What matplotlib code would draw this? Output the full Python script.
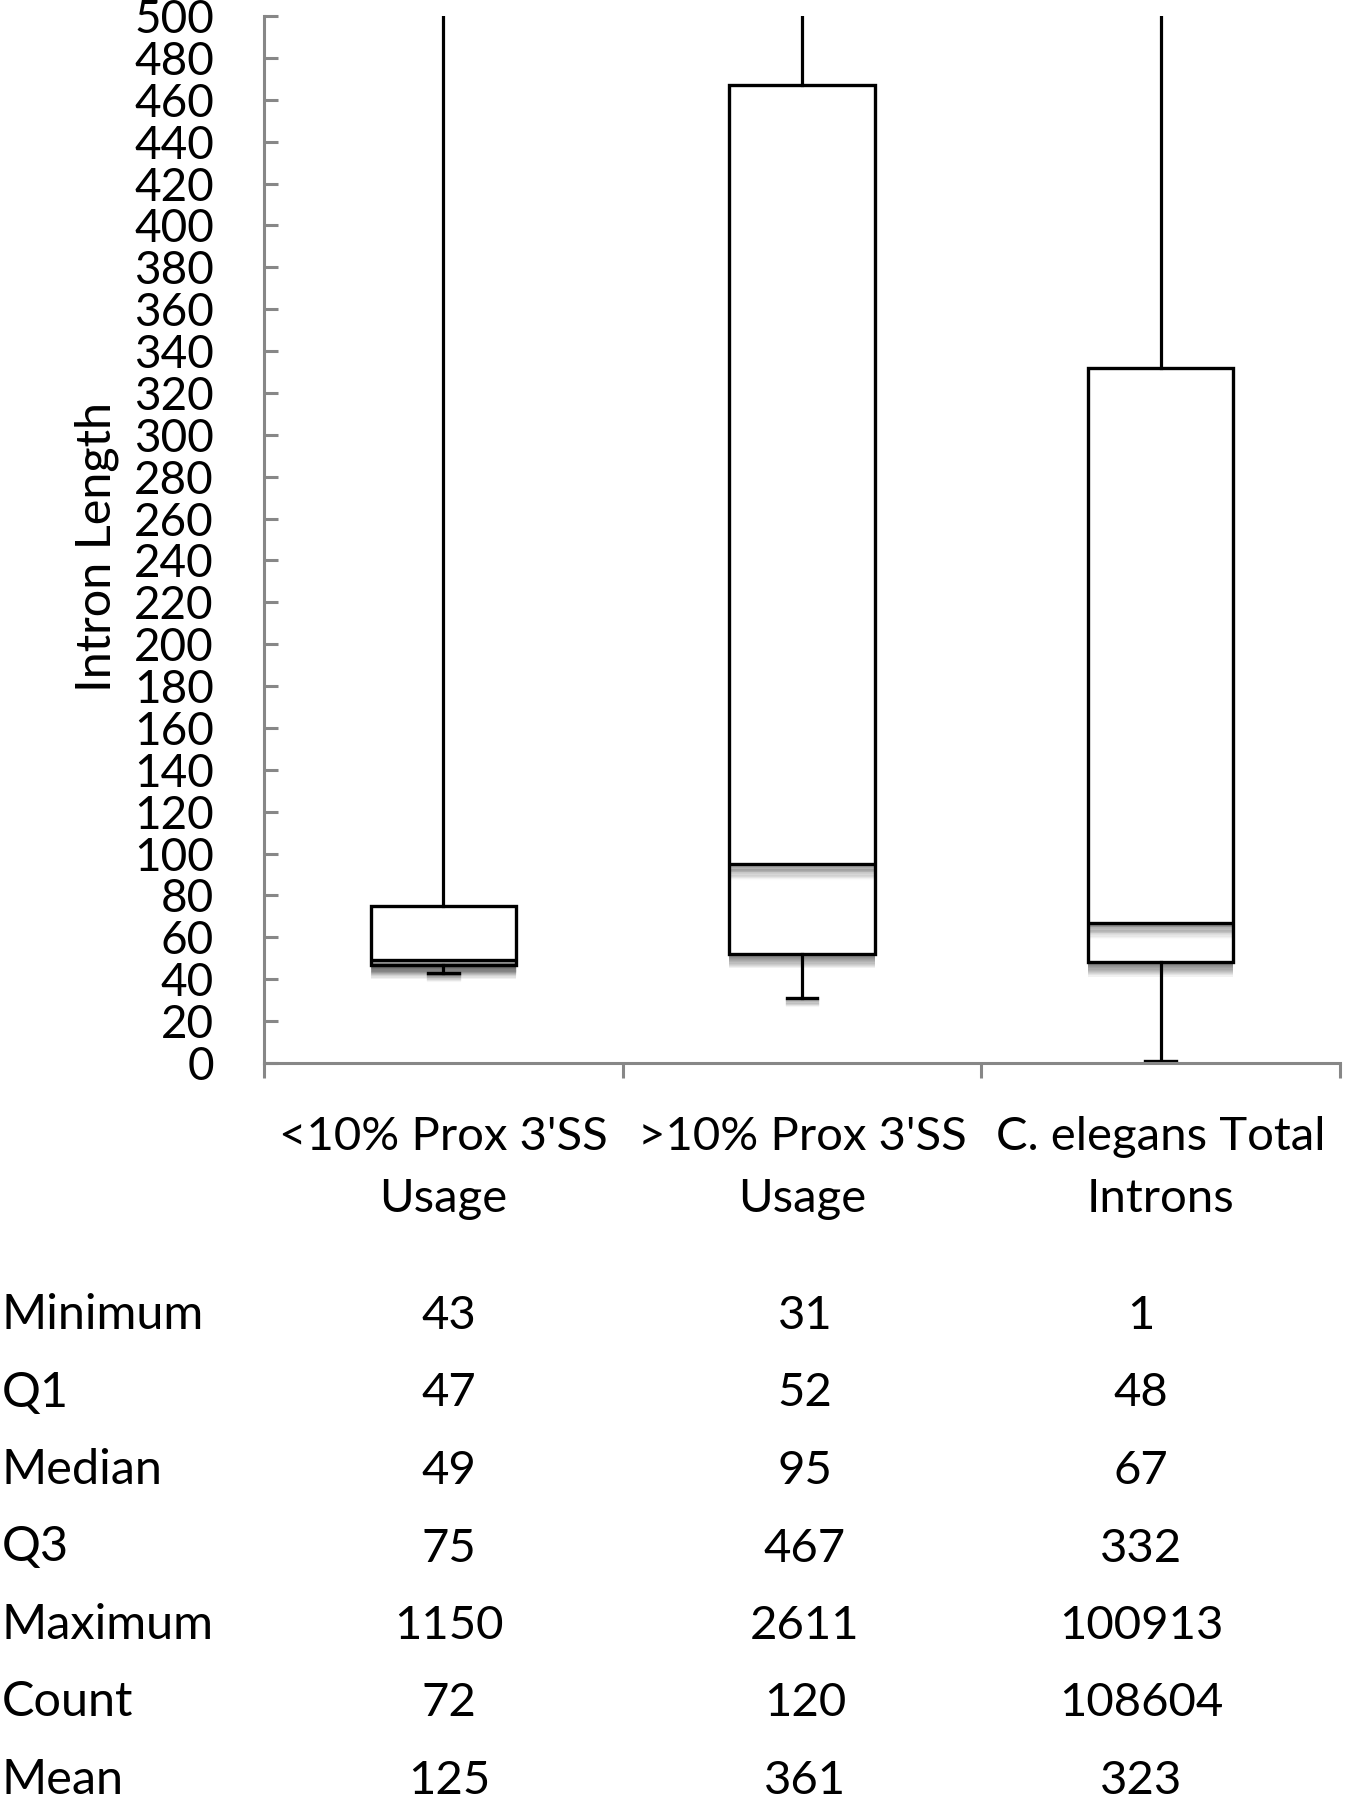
import matplotlib
matplotlib.use('Agg')
import matplotlib.pyplot as plt
import matplotlib.patheffects as pe
from matplotlib.ticker import MultipleLocator, FixedLocator

plt.rcParams['font.family'] = ['Lato', 'DejaVu Sans']

# data
groups = ["<10% Prox 3'SS\nUsage", ">10% Prox 3'SS\nUsage", "C. elegans Total\nIntrons"]
minimum = [43, 31, 1]
q1 = [47, 52, 48]
median = [49, 95, 67]
q3 = [75, 467, 332]
maximum = [1150, 2611, 100913]
count = [72, 120, 108604]
mean = [125, 361, 323]

row_names = ['Minimum', 'Q1', 'Median', 'Q3', 'Maximum', 'Count', 'Mean']
rows = [minimum, q1, median, q3, maximum, count, mean]

axis_grey = '#878787'

fig = plt.figure(figsize=(13.46, 18), dpi=100)
ax = fig.add_axes([264 / 1346, 1 - 1063 / 1800, 1076 / 1346, 1047 / 1800])

stats = []
for i in range(3):
    stats.append(dict(label=groups[i], whislo=minimum[i], q1=q1[i], med=median[i],
                      q3=q3[i], whishi=maximum[i], fliers=[]))


def shadow(kind, n=12):
    # soft drop shadow like the excel one: stacked offset copies fading out
    fx = []
    for k in range(1, n + 1):
        off = (0, -0.85 * k)
        if kind == 'patch':
            fx.append(pe.SimplePatchShadow(offset=off, shadow_rgbFace='black', alpha=0.055))
        else:
            a = 0.2 * (1 - k / (n + 1))
            fx.append(pe.SimpleLineShadow(offset=off, shadow_color='black', alpha=a))
    fx.append(pe.Normal())
    return fx


bp = ax.bxp(stats, positions=[1, 2, 3], widths=0.405, capwidths=0.086,
            patch_artist=True, showfliers=False,
            boxprops=dict(facecolor='white', edgecolor='black', linewidth=2.4),
            medianprops=dict(color='black', linewidth=2.4, solid_capstyle='butt'),
            whiskerprops=dict(color='black', linewidth=2.3),
            capprops=dict(color='black', linewidth=2.4))

for b in bp['boxes']:
    b.set_path_effects(shadow('patch'))
for m in bp['medians']:
    m.set_path_effects(shadow('line'))
for c in bp['caps']:
    c.set_path_effects(shadow('line', 6))

ax.set_xlim(0.5, 3.5)
ax.set_ylim(0, 500)
ax.yaxis.set_major_locator(MultipleLocator(20))

for s in ['top', 'right']:
    ax.spines[s].set_visible(False)
for s in ['left', 'bottom']:
    ax.spines[s].set_color(axis_grey)
    ax.spines[s].set_linewidth(2.2)

ax.tick_params(axis='y', direction='in', length=10, width=2.2, color=axis_grey,
               labelsize=33, pad=36)
ax.xaxis.set_minor_locator(FixedLocator([0.5, 1.5, 2.5, 3.5]))
ax.tick_params(axis='x', which='major', length=0, labelsize=34, pad=38)
ax.tick_params(axis='x', which='minor', direction='out', length=11, width=2.2, color=axis_grey)
for lab in ax.get_xticklabels():
    lab.set_linespacing(1.6)

fig.text(97 / 1346, 1 - 547 / 1800, 'Intron Length', rotation=90, fontsize=35,
         ha='center', va='center')

# summary table below the chart
col_x = [449, 805, 1141]
for r, (name, vals) in enumerate(zip(row_names, rows)):
    yb = 1 - (1329 + r * 77.5) / 1800
    fig.text(2 / 1346, yb, name, fontsize=35, ha='left', va='baseline')
    for cx, v in zip(col_x, vals):
        fig.text(cx / 1346, yb, str(v), fontsize=34, ha='center', va='baseline')

fig.savefig('out.png', dpi=100)
